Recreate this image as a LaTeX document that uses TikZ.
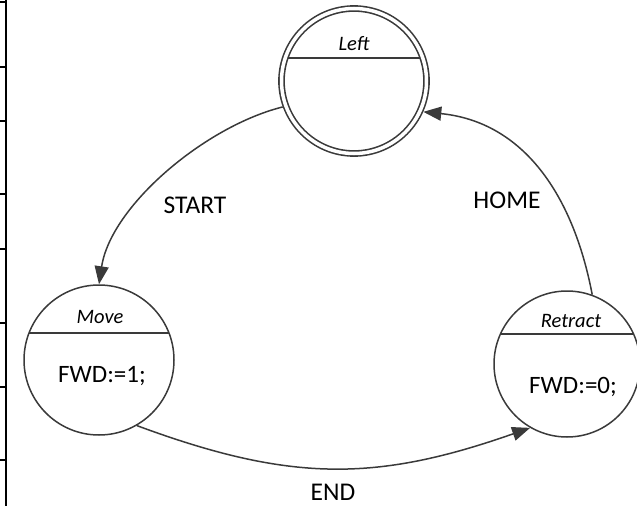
\documentclass[tikz,border=0pt]{standalone}
\usepackage{fontspec}
\setmainfont{Carlito}
\usetikzlibrary{arrows.meta,calc}
\definecolor{ink}{HTML}{3A3A3A}
\tikzset{
  x=1pt, y=-1pt,
  state/.style={circle, draw=ink, line width=1.5pt, minimum size=#1, inner sep=0pt},
  initstate/.style={circle, draw=ink, line width=1.6pt, double=white, double distance=3.5pt,
    minimum size=#1, inner sep=0pt, outer sep=3.35pt},
  divider/.style={draw=ink, line width=1.5pt},
  trans/.style={draw=ink, line width=1.5pt, -{Triangle[length=18pt,width=14pt]}},
  statename/.style={font=\fontsize{20.5}{24}\selectfont\itshape, anchor=base, inner sep=0pt},
  action/.style={font=\fontsize{25}{30}\selectfont, anchor=base, inner sep=0pt},
  translabel/.style={font=\fontsize{25.5}{30}\selectfont, anchor=base, inner sep=0pt},
  border/.style={line width=2pt, black},
  tick/.style={line width=1.5pt, black}
}
\begin{document}
\begin{tikzpicture}
\useasboundingbox (0,0) rectangle (637,506);

% table edge on the left
\draw[border] (6,0) -- (6,506);
\foreach \yy in {2,67,121,194,249,323,387,460}
  \draw[tick] (0,\yy) -- (6,\yy);

% states
\node[initstate=145] (L) at (354,81) {};
\node[state=150] (M) at (99,360) {};
\node[state=146] (R) at (567,364) {};

% dividers between name and action
\draw[divider] ($(L.center)+(-66,-23)$) -- ($(L.center)+(66,-23)$);
\draw[divider] ($(M.center)+(-70,-27)$) -- ($(M.center)+(70,-27)$);
\draw[divider] ($(R.center)+(-66.5,-30)$) -- ($(R.center)+(66.5,-30)$);

% state names and actions
\node[statename] (Lname) at (354,50) {Left};
\node[statename] (Mname) at (100,323) {Move};
\node[statename] (Rname) at (571,327) {Retract};
\node[action] (Mact) at (102,382) {FWD:=1;};
\node[action] (Ract) at (573,393) {FWD:=0;};

% transitions
\draw[trans] (L.200) .. controls +(-78,19.5) and +(11.7,-78) .. (M.north);
\draw[trans] (R.70) .. controls +(-19,-100) and +(100,10) .. (L.-24);
\draw[trans] (M.-60) .. controls +(154,57) and +(-154,54) .. (R.-120);

% transition labels
\node[translabel] (start) at (195,213) {START};
\node[translabel] (home) at (507,208) {HOME};
\node[translabel] (end) at (333,500) {END};
\end{tikzpicture}
\end{document}
